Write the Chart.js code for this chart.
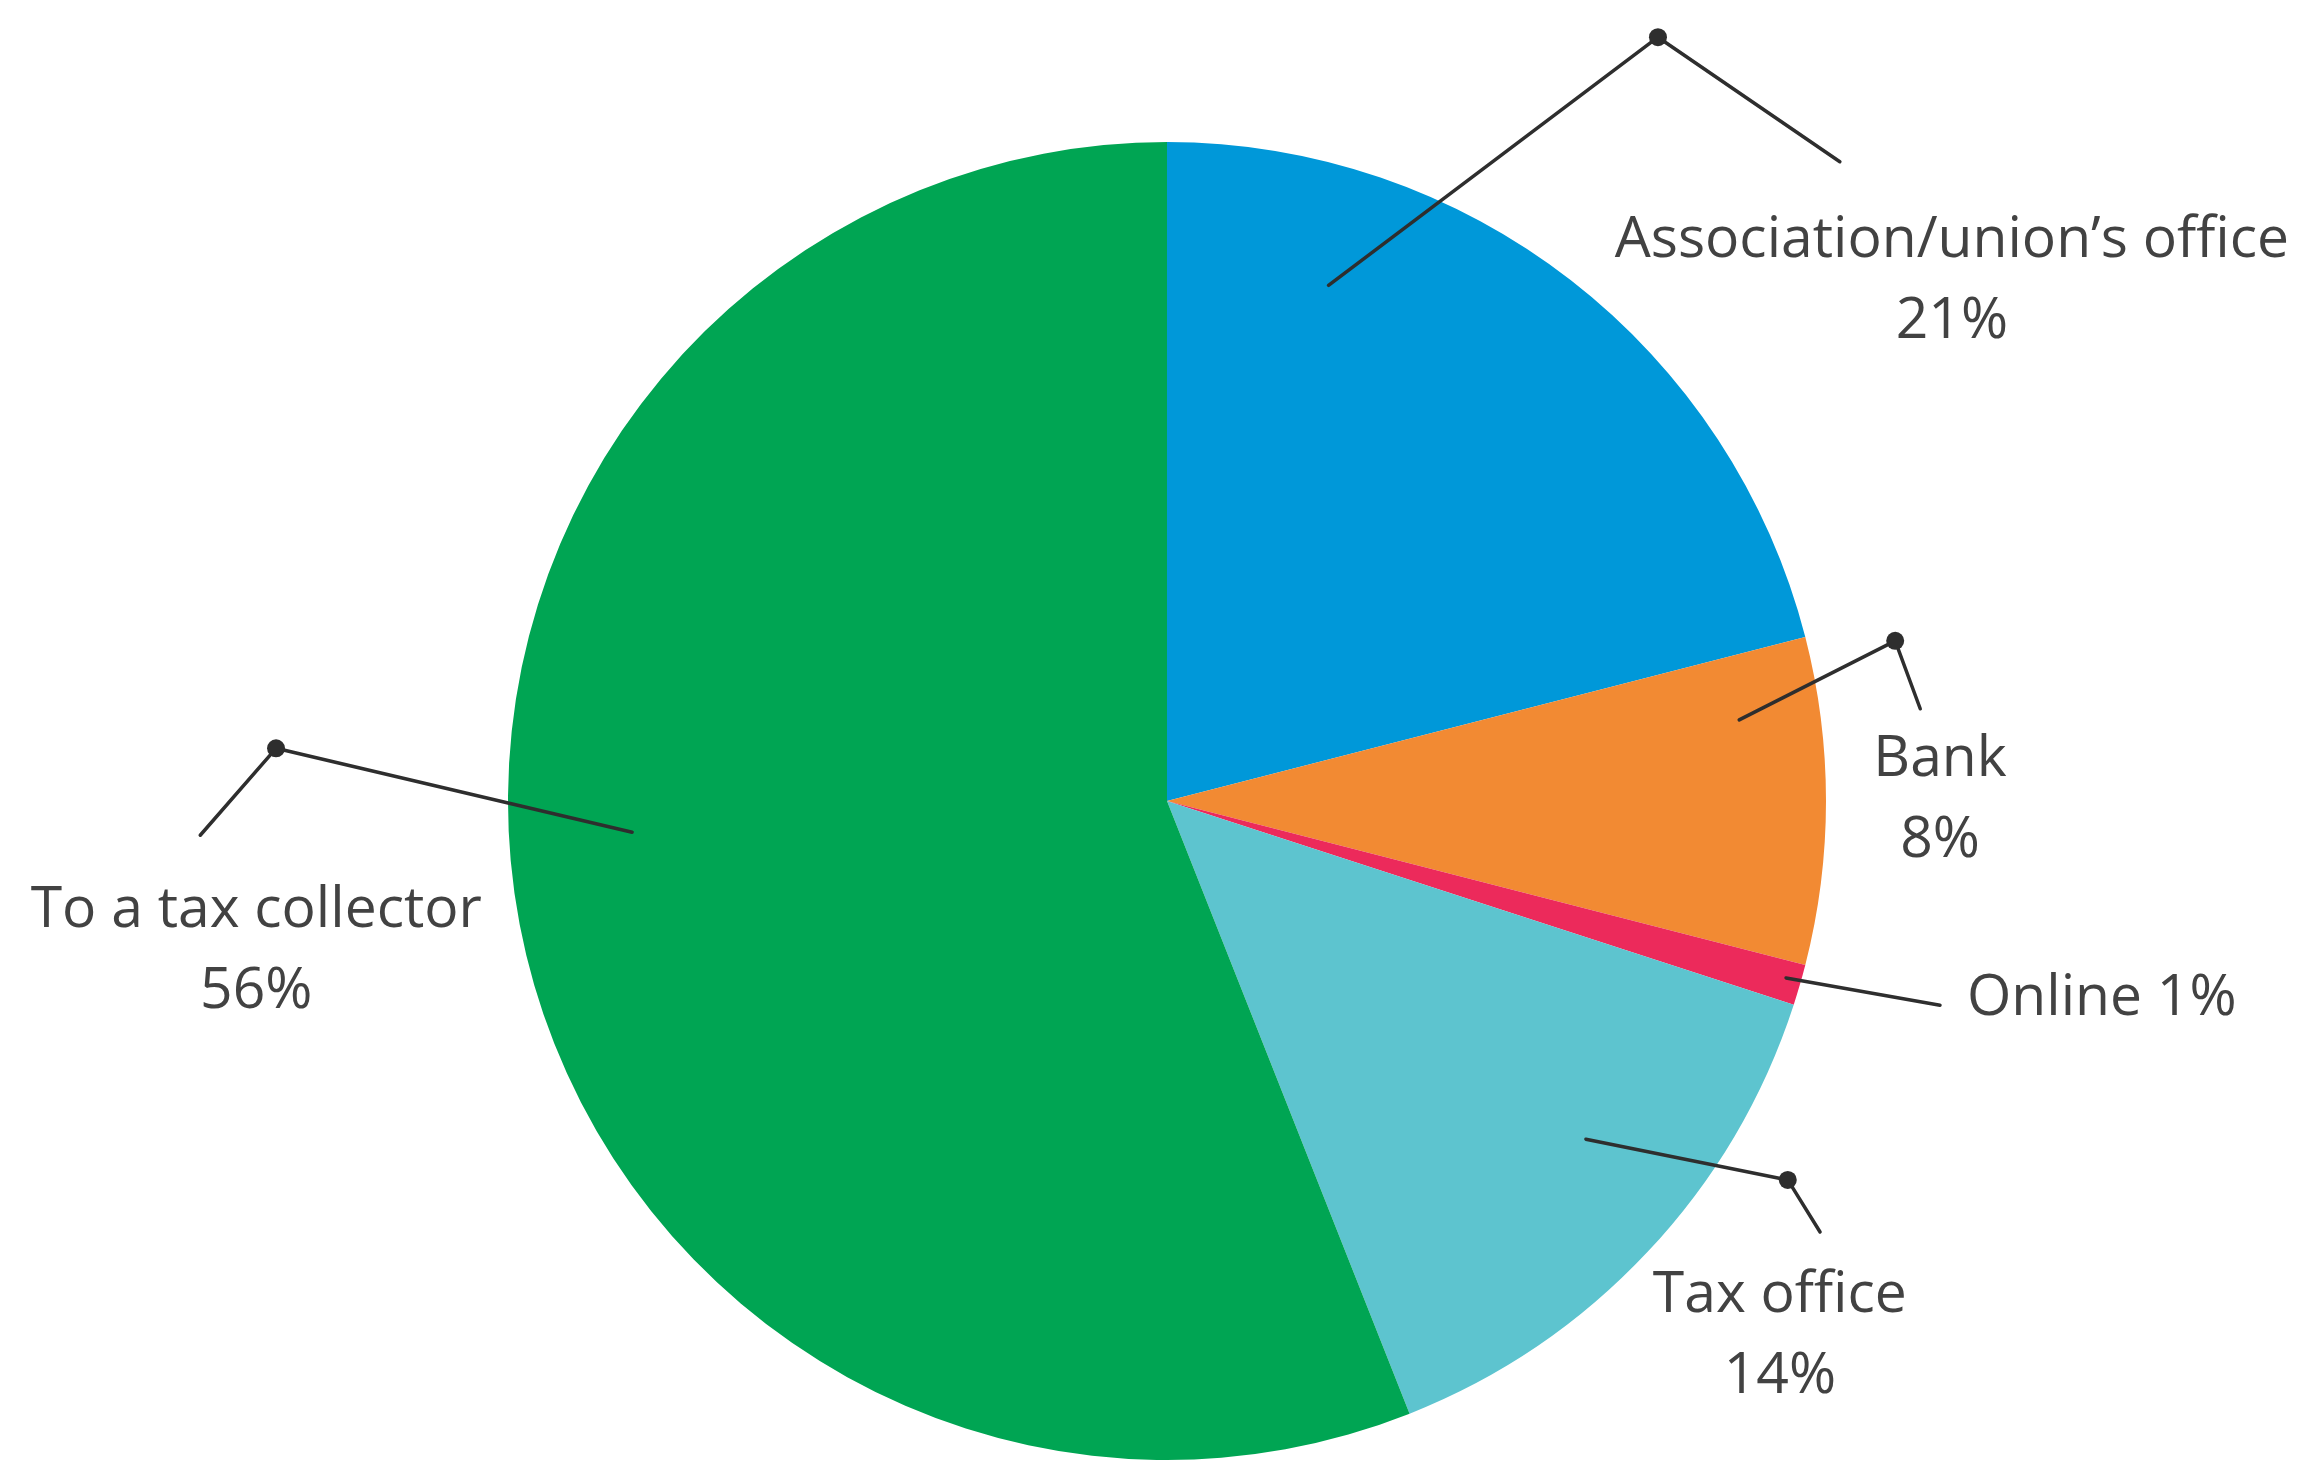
<!DOCTYPE html>
<html>
<head>
<meta charset="utf-8">
<script src="https://cdn.jsdelivr.net/npm/chart.js@4/dist/chart.umd.min.js"></script>
<style>
    body { margin: 0; background: #ffffff; }
    canvas { display: block; }
</style>
</head>
<body>
<canvas id="pizza" width="2305" height="1470"></canvas>
<script>
// Dados do gráfico - ordem horária a partir do topo
const categorias = ['Association/union\u2019s office', 'Bank', 'Online', 'Tax office', 'To a tax collector'];
const percentuais = [21, 8, 1, 14, 56];
const cores = ['#0098d9', '#f28a33', '#ec2a5b', '#5dc4cf', '#00a553'];

// Posição das legendas com linha guia (em unidades do raio, a partir do centro)
// t = fração do ângulo da fatia, r = fração do raio onde começa a linha
const guias = [
    { t: 0.23, r: 0.82, ponto: [0.745, -1.159], fim: [1.021, -0.970], texto: [1.191, -0.826], linhas: 2, alinhar: 'center' },
    { t: 0.22, r: 0.877, ponto: [1.105, -0.243], fim: [1.143, -0.140], texto: [1.173, -0.038], linhas: 2, alinhar: 'center' },
    { t: 0.43, r: 0.977, ponto: null, fim: [1.173, 0.310], texto: [1.214, 0.325], linhas: 1, alinhar: 'left' },
    { t: 0.415, r: 0.817, ponto: [0.942, 0.575], fim: [0.991, 0.654], texto: [0.930, 0.775], linhas: 2, alinhar: 'center' },
    { t: 0.537, r: 0.813, ponto: [-1.352, -0.080], fim: [-1.467, 0.052], texto: [-1.382, 0.191], linhas: 2, alinhar: 'center' }
];

const corTexto = '#424242';

// Desenha as linhas guia, o ponto e os rótulos de cada fatia
const rotulosPizza = {
    id: 'rotulosPizza',
    afterDatasetsDraw(chart) {
        const ctx = chart.ctx;
        const meta = chart.getDatasetMeta(0);
        ctx.save();
        meta.data.forEach((arco, i) => {
            const p = arco.getProps(['x', 'y', 'startAngle', 'endAngle', 'outerRadius'], true);
            const R = p.outerRadius;
            const g = guias[i];
            const ang = p.startAngle + g.t * (p.endAngle - p.startAngle);
            const x0 = p.x + Math.cos(ang) * R * g.r;
            const y0 = p.y + Math.sin(ang) * R * g.r;

            ctx.strokeStyle = '#2e2e2e';
            ctx.lineWidth = 3.5;
            ctx.lineCap = 'round';
            ctx.lineJoin = 'round';
            ctx.beginPath();
            ctx.moveTo(x0, y0);
            if (g.ponto) ctx.lineTo(p.x + g.ponto[0] * R, p.y + g.ponto[1] * R);
            ctx.lineTo(p.x + g.fim[0] * R, p.y + g.fim[1] * R);
            ctx.stroke();

            if (g.ponto) {
                ctx.fillStyle = '#2e2e2e';
                ctx.beginPath();
                ctx.arc(p.x + g.ponto[0] * R, p.y + g.ponto[1] * R, 9, 0, Math.PI * 2);
                ctx.fill();
            }

            ctx.fillStyle = corTexto;
            ctx.font = '57px "Open Sans", sans-serif';
            ctx.textAlign = g.alinhar;
            ctx.textBaseline = 'alphabetic';
            const tx = p.x + g.texto[0] * R;
            const ty = p.y + g.texto[1] * R;
            const valor = percentuais[i] + '%';
            if (g.linhas === 1) {
                ctx.fillText(categorias[i] + ' ' + valor, tx, ty);
            } else {
                ctx.fillText(categorias[i], tx, ty);
                ctx.fillText(valor, tx, ty + 81);
            }
        });
        ctx.restore();
    }
};

const ctx = document.getElementById('pizza');
new Chart(ctx, {
    type: 'pie',
    data: {
        labels: categorias,
        datasets: [{
            data: percentuais,
            backgroundColor: cores,
            borderWidth: 0
        }]
    },
    options: {
        responsive: false,
        animation: false,
        layout: {
            padding: { top: 142, bottom: 10, left: 508, right: 479 }
        },
        plugins: {
            legend: { display: false },
            tooltip: { enabled: false }
        }
    },
    plugins: [rotulosPizza]
});
</script>
</body>
</html>
